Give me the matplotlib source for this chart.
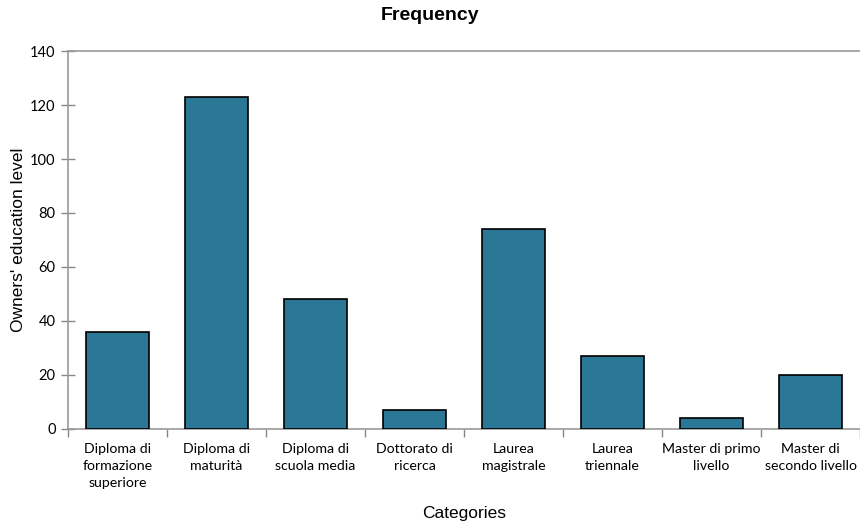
import matplotlib.pyplot as plt
import numpy as np

categories = ['Diploma di\nformazione\nsuperiore', 'Diploma di\nmaturità', 'Diploma di\nscuola media',
              'Dottorato di\nricerca', 'Laurea\nmagistrale', 'Laurea\ntriennale',
              'Master di primo\nlivello', 'Master di\nsecondo livello']
counts = [36, 123, 48, 7, 74, 27, 4, 20]
y_ticks = [0, 20, 40, 60, 80, 100, 120, 140]

fig = plt.figure(figsize=(8.6, 5.21), dpi=100)
ax = fig.add_axes([0.0791, 0.1766, 0.9209, 0.7255])

x = np.arange(len(categories))
ax.bar(x, counts, width=0.63, color='#2A7796', edgecolor='black', linewidth=1.2, zorder=3)

ax.set_xlim(-0.5, len(categories) - 0.5)
ax.set_ylim(0, 140)
ax.set_yticks(y_ticks)
ax.set_yticklabels([str(v) for v in y_ticks], fontfamily='Lato', fontsize=10.5)

ax.set_xticks(x)
ax.set_xticklabels(categories, fontfamily='Lato', fontsize=10.2, linespacing=1.5)
ax.tick_params(axis='x', length=0, pad=10)
ax.set_xticks(np.arange(-0.5, len(categories), 1.0), minor=True)
ax.tick_params(axis='x', which='minor', length=6, color='#888888', width=1)
ax.tick_params(axis='y', direction='inout', length=10, color='#888888', width=1, pad=4)

ax.spines['right'].set_visible(False)
for side in ['left', 'bottom', 'top']:
    ax.spines[side].set_color('#999999')
    ax.spines[side].set_linewidth(1.2)

ax.set_xlabel('Categories', fontfamily='Liberation Sans', fontsize=12.5, labelpad=12)
ax.set_ylabel("Owners' education level", fontfamily='Liberation Sans', fontsize=12.5, labelpad=3)
fig.suptitle('Frequency', fontfamily='Liberation Sans', fontweight='bold', fontsize=14, y=0.987)

fig.savefig('out.png', dpi=100)
